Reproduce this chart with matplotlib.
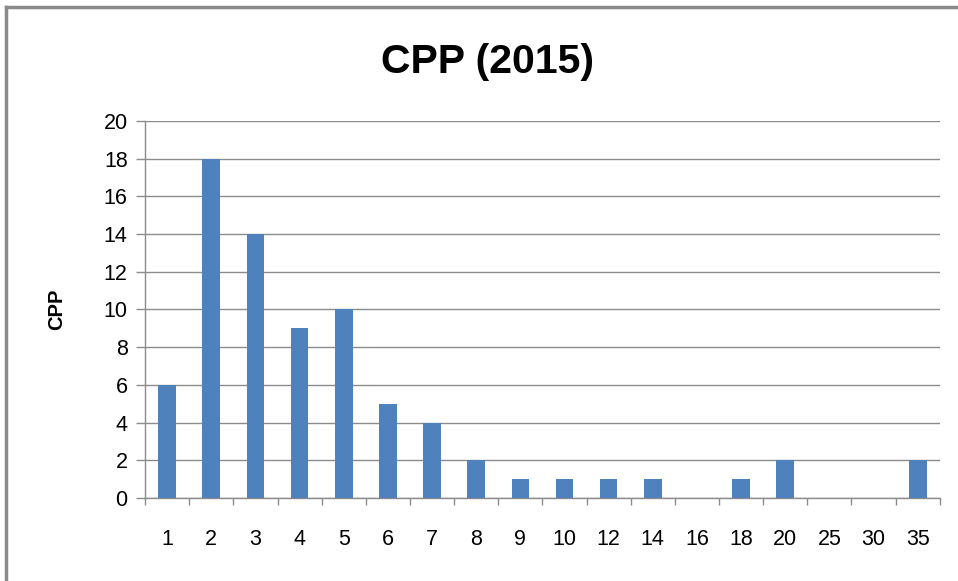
import numpy as np
import matplotlib.pyplot as plt
from matplotlib.lines import Line2D

categories = ['1', '2', '3', '4', '5', '6', '7', '8', '9', '10',
              '12', '14', '16', '18', '20', '25', '30', '35']
values = [6, 18, 14, 9, 10, 5, 4, 2, 1, 1, 1, 1, 0, 1, 2, 0, 0, 2]
yticks = [0, 2, 4, 6, 8, 10, 12, 14, 16, 18, 20]

plt.rcParams['font.family'] = ['Liberation Sans', 'DejaVu Sans']

fig = plt.figure(figsize=(9.58, 5.81), dpi=100)
ax = fig.add_axes([0.1514, 0.1429, 0.8296, 0.6489])

x = np.arange(len(categories))
ax.bar(x, values, width=0.4, color='#4F81BD', zorder=3)

ax.set_xlim(-0.5, len(categories) - 0.5)
ax.set_ylim(0, 20)
ax.set_yticks(yticks)
ax.yaxis.grid(True, color='#8C8C8C', linewidth=1, zorder=0)

# labels centered, tick marks on category boundaries
ax.set_xticks(x)
ax.set_xticklabels(categories, fontsize=15.5)
ax.set_xticks(np.arange(len(categories) + 1) - 0.5, minor=True)
ax.tick_params(axis='x', which='major', length=0, pad=22)
ax.tick_params(axis='x', which='minor', length=5, color='#8C8C8C', width=1)
ax.tick_params(axis='y', length=6.5, color='#8C8C8C', width=1, labelsize=15.5, pad=6)

for s in ['top', 'right']:
    ax.spines[s].set_visible(False)
for s in ['left', 'bottom']:
    ax.spines[s].set_color('#8C8C8C')
    ax.spines[s].set_linewidth(1)

fig.text(57 / 958, 1 - 309 / 581, 'CPP', rotation=90, ha='center', va='center',
         fontsize=14.5, fontweight='bold')
fig.text(0.509, 0.893, 'CPP (2015)', ha='center', va='center',
         fontsize=29.5, fontweight='bold')

# outer chart border (left and top edges)
fig.add_artist(Line2D([6 / 958, 6 / 958], [0, 1 - 7 / 581],
                      transform=fig.transFigure, color='#8A8A8A', linewidth=2.5))
fig.add_artist(Line2D([6 / 958, 1], [1 - 7 / 581, 1 - 7 / 581],
                      transform=fig.transFigure, color='#8A8A8A', linewidth=2.5))

fig.savefig('out.png', dpi=100)
